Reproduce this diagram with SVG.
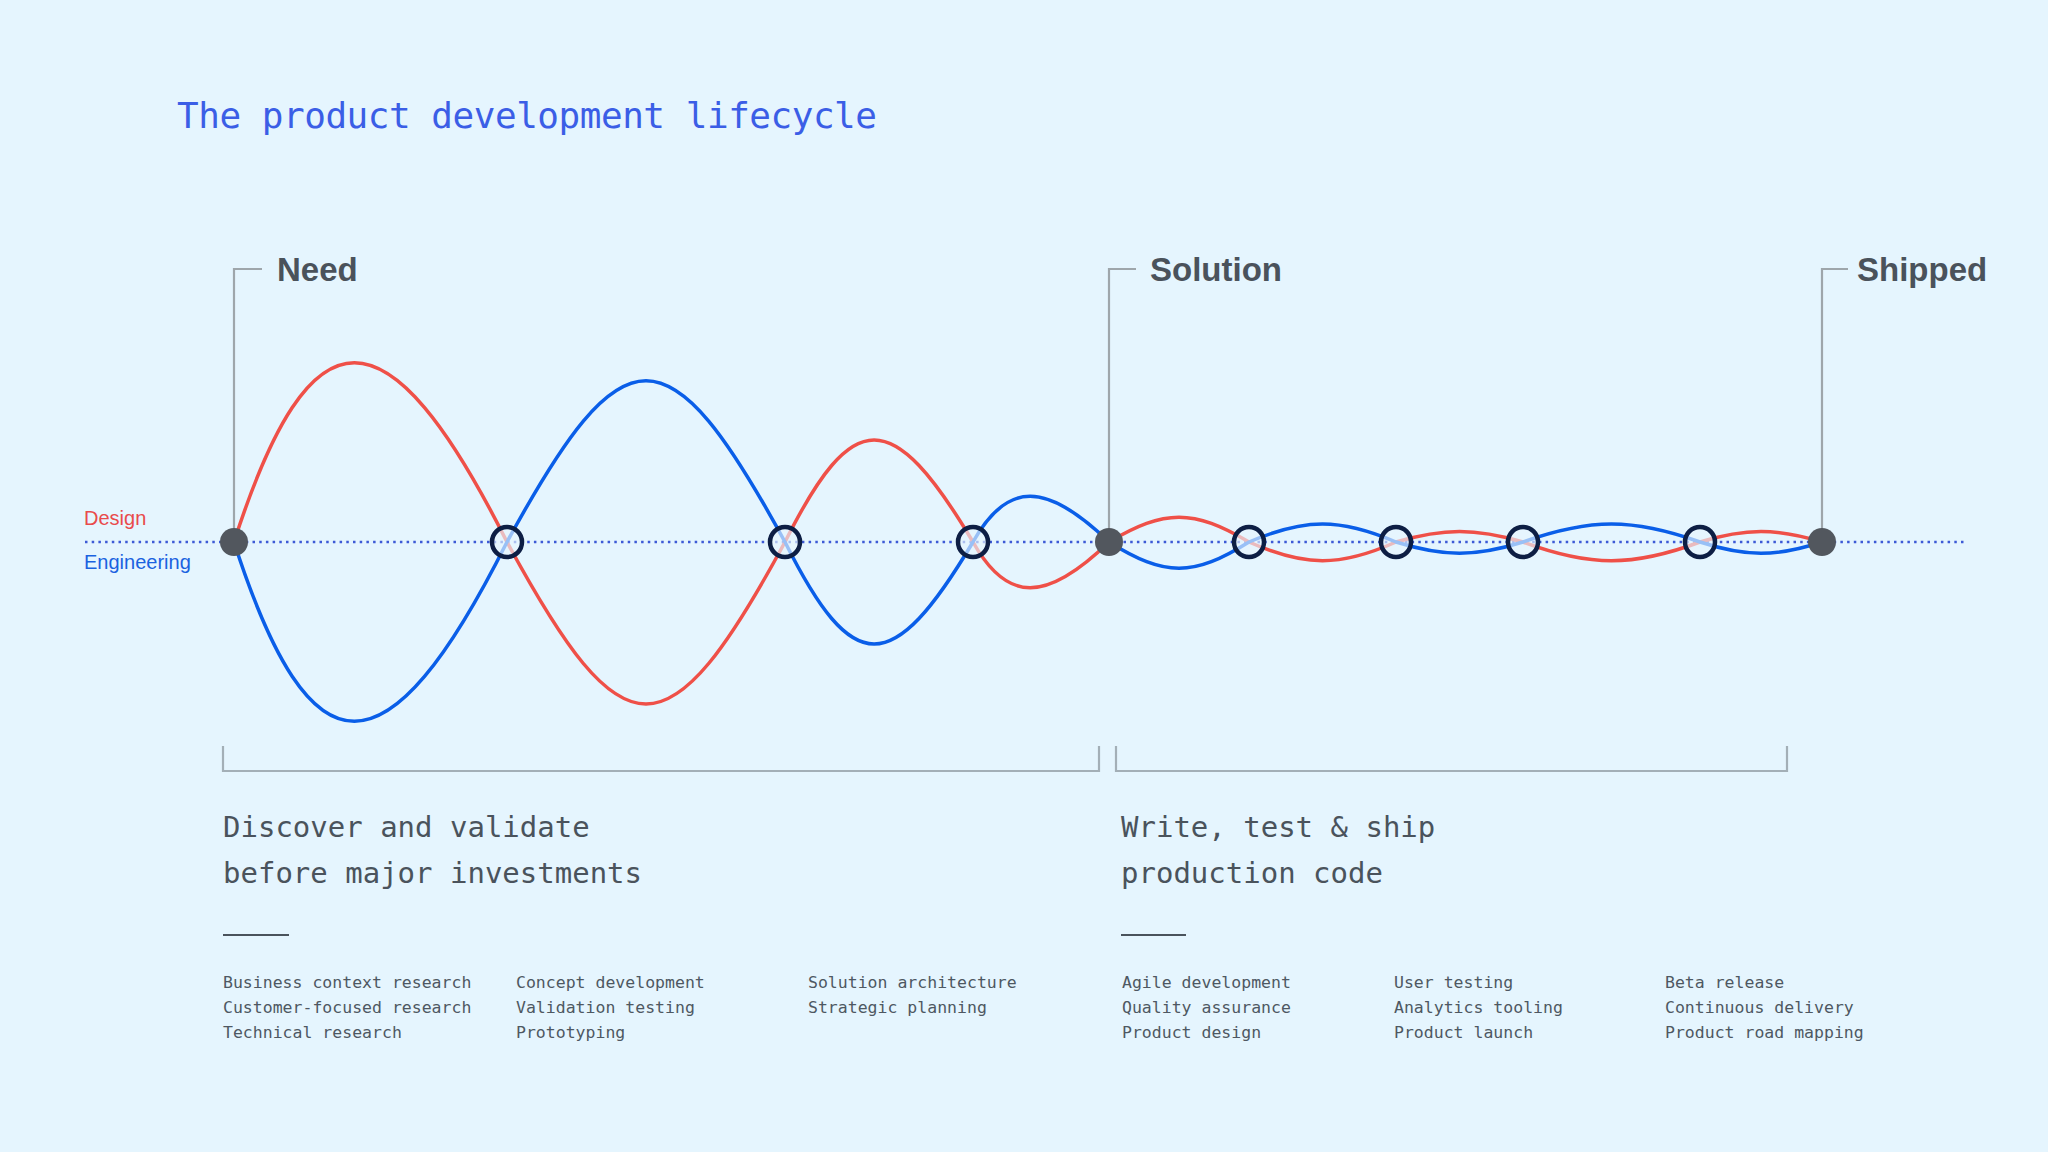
<svg xmlns="http://www.w3.org/2000/svg" width="2048" height="1152" viewBox="0 0 2048 1152">
  <style>
    .title { font-family: "DejaVu Sans Mono", "Liberation Mono", monospace; font-size: 36px; fill: #3b5ee6; }
    .milestone { font-family: "Liberation Sans", Arial, sans-serif; font-weight: bold; font-size: 33px; fill: #4a525b; }
    .lane { font-family: "Liberation Sans", Arial, sans-serif; font-size: 20px; }
    .phase { font-family: "DejaVu Sans Mono", "Liberation Mono", monospace; font-size: 29px; fill: #4a535c; }
    .item { font-family: "DejaVu Sans Mono", "Liberation Mono", monospace; font-size: 16.5px; fill: #4e5862; }
    .leader { fill: none; stroke: #9ea6ab; stroke-width: 2.2; }
    .bracket { fill: none; stroke: #a3afb7; stroke-width: 2.2; }
    .design { fill: none; stroke: #ef5048; stroke-width: 3.5; }
    .eng { fill: none; stroke: #0a5ee8; stroke-width: 3.5; }
    .mile { fill: #52575e; }
    .cross { fill: #e6f5fe; fill-opacity: 0.65; stroke: #0d1e44; stroke-width: 4.5; }
  </style>
  <rect width="2048" height="1152" fill="#e5f5fe"/>

  <text class="title" x="177" y="128" textLength="700">The product development lifecycle</text>

  <g id="lane-labels">
    <text class="lane" x="84" y="525" fill="#e94b4b">Design</text>
    <text class="lane" x="84" y="569" fill="#1a62e0">Engineering</text>
  </g>

  <g id="baseline">
    <line x1="85" y1="542" x2="1964" y2="542" stroke="#3d5ad6" stroke-width="2.5" stroke-dasharray="2.5 4.2"/>
  </g>

  <g id="connectors">
    <path class="design" d="M234 542 C311 303 387 303 507 542 C624 758 668 758 785 542 C853 406 892 406 973 542 C1007 603 1046 603 1109 542 C1165 509 1193 509 1249 542 C1305 567 1340 567 1396 542 C1444 528 1475 528 1523 542 C1590 567 1633 567 1700 542 C1746 528 1776 528 1822 542"/>
    <path class="eng" d="M234 542 C311 781 387 781 507 542 C624 327 668 327 785 542 C853 678 892 678 973 542 C1007 481 1046 481 1109 542 C1165 577 1193 577 1249 542 C1305 518 1340 518 1396 542 C1444 557 1475 557 1523 542 C1590 518 1633 518 1700 542 C1746 557 1776 557 1822 542"/>
  </g>

  <g id="need">
    <path class="leader" d="M262 269 H234 V542"/>
    <text class="milestone" x="277" y="281">Need</text>
    <circle class="mile" cx="234" cy="542" r="14"/>
  </g>
  <g id="solution">
    <path class="leader" d="M1136 269 H1109 V542"/>
    <text class="milestone" x="1150" y="281">Solution</text>
    <circle class="mile" cx="1109" cy="542" r="14"/>
  </g>
  <g id="shipped">
    <path class="leader" d="M1848 269 H1822 V542"/>
    <text class="milestone" x="1857" y="281">Shipped</text>
    <circle class="mile" cx="1822" cy="542" r="14"/>
  </g>

  <g id="crossings">
    <circle id="x1" class="cross" cx="507" cy="542" r="15"/>
    <circle id="x2" class="cross" cx="785" cy="542" r="15"/>
    <circle id="x3" class="cross" cx="973" cy="542" r="15"/>
    <circle id="x4" class="cross" cx="1249" cy="542" r="15"/>
    <circle id="x5" class="cross" cx="1396" cy="542" r="15"/>
    <circle id="x6" class="cross" cx="1523" cy="542" r="15"/>
    <circle id="x7" class="cross" cx="1700" cy="542" r="15"/>
  </g>

  <g id="phase-discover">
    <path class="bracket" d="M223 746 V771 H1099 V746"/>
    <text class="phase" x="223" y="837">Discover and validate</text>
    <text class="phase" x="223" y="883">before major investments</text>
    <line x1="223" y1="935" x2="289" y2="935" stroke="#4a535c" stroke-width="2"/>
    <text class="item" x="223" y="988">Business context research</text>
    <text class="item" x="223" y="1013">Customer-focused research</text>
    <text class="item" x="223" y="1038">Technical research</text>
    <text class="item" x="516" y="988">Concept development</text>
    <text class="item" x="516" y="1013">Validation testing</text>
    <text class="item" x="516" y="1038">Prototyping</text>
    <text class="item" x="808" y="988">Solution architecture</text>
    <text class="item" x="808" y="1013">Strategic planning</text>
  </g>

  <g id="phase-ship">
    <path class="bracket" d="M1116 746 V771 H1787 V746"/>
    <text class="phase" x="1121" y="837">Write, test &amp; ship</text>
    <text class="phase" x="1121" y="883">production code</text>
    <line x1="1121" y1="935" x2="1186" y2="935" stroke="#4a535c" stroke-width="2"/>
    <text class="item" x="1122" y="988">Agile development</text>
    <text class="item" x="1122" y="1013">Quality assurance</text>
    <text class="item" x="1122" y="1038">Product design</text>
    <text class="item" x="1394" y="988">User testing</text>
    <text class="item" x="1394" y="1013">Analytics tooling</text>
    <text class="item" x="1394" y="1038">Product launch</text>
    <text class="item" x="1665" y="988">Beta release</text>
    <text class="item" x="1665" y="1013">Continuous delivery</text>
    <text class="item" x="1665" y="1038">Product road mapping</text>
  </g>
</svg>
